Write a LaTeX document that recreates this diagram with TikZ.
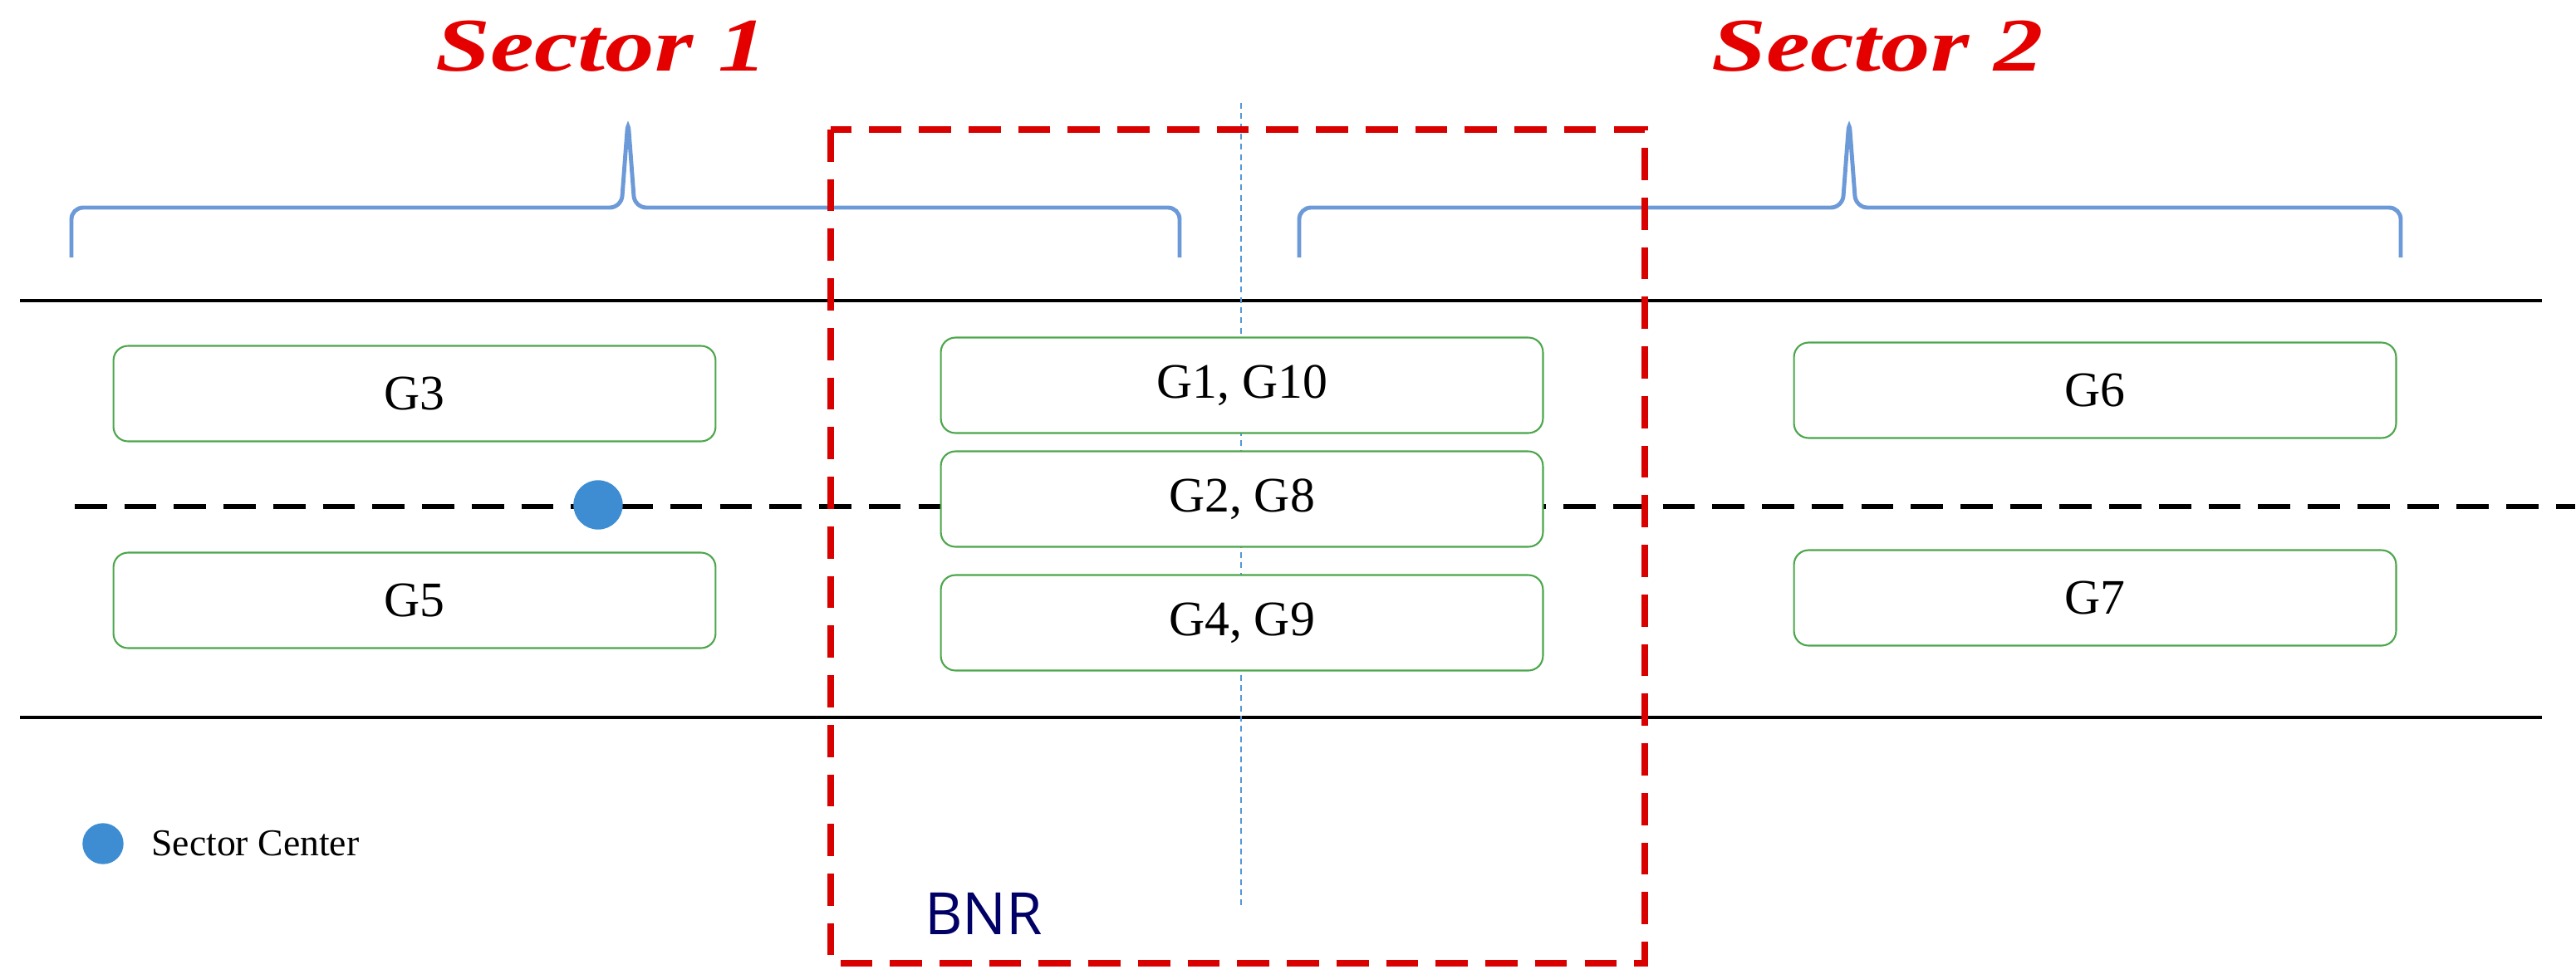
\documentclass[tikz,border=0pt]{standalone}
\usepackage{fontspec}
\setmainfont{Liberation Serif}
\newfontfamily\sansf{Open Sans}
\begin{document}
\begin{tikzpicture}[x=0.02cm,y=-0.02cm,
  gbox/.style={draw=green!50!black!70,fill=white,rounded corners=5pt,line width=0.6pt,minimum width=7.25cm,minimum height=1.15cm,font=\fontsize{17}{20}\selectfont},
  brace/.style={draw=cyan!50!blue!60,line width=1.4pt,rounded corners=4pt},
  seclab/.style={text=red!90!black,font=\fontsize{26}{30}\selectfont\bfseries\itshape},
  sdot/.style={circle,fill=cyan!60!blue!80,draw=cyan!60!blue!80,inner sep=0pt}]
\useasboundingbox (0,0) rectangle (1550.5,589);
\node[seclab,xscale=1.3] (s1) at (362,28) {Sector 1};
\node[seclab,xscale=1.3] (s2) at (1130,28) {Sector 2};
\draw[brace] (43,155) -- (43,125) -- (374,125) -- (378,72) -- (382,125) -- (710,125) -- (710,155);
\draw[brace] (782,155) -- (782,125) -- (1109,125) -- (1113,72) -- (1117,125) -- (1445,125) -- (1445,155);
\draw[line width=1.3pt] (12,181) -- (1530,181);
\draw[line width=1.3pt] (12,432) -- (1530,432);
\draw[line width=1.5pt,dash pattern=on 11pt off 6pt] (45,305) -- (1550,305);
\draw[cyan!60!blue!70,line width=0.6pt,dash pattern=on 2pt off 1.5pt] (747,62) -- (747,545);
\node[gbox] (g3) at (249.5,237) {G3};
\node[gbox] (g5) at (249.5,361.5) {G5};
\node[gbox] (g1) at (747.5,232) {G1, G10};
\node[gbox] (g2) at (747.5,300.5) {G2, G8};
\node[gbox] (g4) at (747.5,375) {G4, G9};
\node[gbox] (g6) at (1261,235) {G6};
\node[gbox] (g7) at (1261,360) {G7};
\node[sdot,minimum size=0.58cm] (c1) at (360,304) {};
\draw[red!85!black,line width=2.4pt,dash pattern=on 11pt off 6pt] (500,78) rectangle (990,580);
\node[sdot,minimum size=0.48cm] (lg) at (62,508) {};
\node[anchor=west,font=\fontsize{13}{15}\selectfont] (lt) at (85,508) {Sector Center};
\node[text=blue!40!black,font=\sansf\fontsize{20}{24}\selectfont] (bnr) at (592,550) {BNR};
\end{tikzpicture}
\end{document}
